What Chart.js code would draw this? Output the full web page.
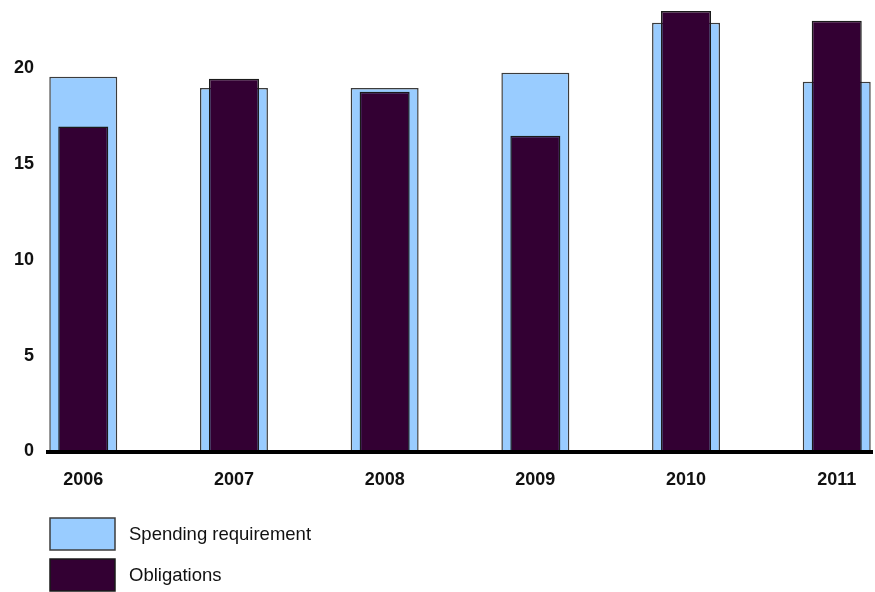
<!DOCTYPE html>
<html>
<head>
<meta charset="utf-8">
<style>
  html, body { margin: 0; padding: 0; background: #ffffff; }
  #wrap { width: 875px; height: 592px; position: relative; }
</style>
<script src="https://cdn.jsdelivr.net/npm/chart.js@4.4.1/dist/chart.umd.min.js"></script>
</head>
<body>
<div id="wrap"><canvas id="chart" width="875" height="592"></canvas></div>
<script>
// Fiscal years along the bottom axis
const years = ['2006', '2007', '2008', '2009', '2010', '2011'];
// Amounts per year (billions)
const spendingRequirement = [19.55, 18.96, 18.96, 19.76, 22.37, 19.29];
const obligations = [16.96, 19.45, 18.77, 16.47, 22.98, 22.47];
// Value-axis tick labels
const yTicks = [0, 5, 10, 15, 20];

const toPoints = (arr) => arr.map((v, i) => ({ x: i, y: v }));

// Draws the stacked legend boxes beneath the plot
const boxLegend = {
  id: 'boxLegend',
  afterDraw(chart) {
    const ctx = chart.ctx;
    const left = 50, top = 518, boxW = 65, boxH = 32, step = 41;
    ctx.save();
    ctx.font = '18.5px "Liberation Sans", Arial, sans-serif';
    ctx.textBaseline = 'middle';
    ctx.textAlign = 'left';
    chart.data.datasets.forEach((ds, i) => {
      const y = top + i * step;
      ctx.fillStyle = ds.backgroundColor;
      ctx.fillRect(left, y, boxW, boxH);
      ctx.lineWidth = 1.5;
      ctx.strokeStyle = ds.borderColor;
      ctx.strokeRect(left, y, boxW, boxH);
      ctx.fillStyle = '#111111';
      ctx.fillText(ds.label, left + 79, y + boxH / 2 + 1);
    });
    ctx.restore();
  }
};

new Chart(document.getElementById('chart'), {
  type: 'bar',
  data: {
    datasets: [
      {
        label: 'Spending requirement',
        data: toPoints(spendingRequirement),
        backgroundColor: '#99ccff',
        borderColor: '#3c3c3c',
        borderWidth: 1.5,
        grouped: false,
        categoryPercentage: 1,
        barPercentage: 0.451,
        order: 1
      },
      {
        label: 'Obligations',
        data: toPoints(obligations),
        backgroundColor: '#330033',
        borderColor: '#1a1a1a',
        borderWidth: 1.5,
        grouped: false,
        categoryPercentage: 1,
        barPercentage: 0.332,
        order: 0
      }
    ]
  },
  options: {
    responsive: false,
    animation: false,
    events: [],
    layout: { padding: { top: 10.6, right: 3, bottom: 100.5, left: 0 } },
    plugins: {
      legend: { display: false },
      tooltip: { enabled: false }
    },
    scales: {
      x: {
        type: 'linear',
        offset: false,
        min: -0.234,
        max: 5.234,
        afterBuildTicks: (scale) => { scale.ticks = years.map((_, i) => ({ value: i })); },
        afterFit: (scale) => {
          scale.height = 40;
          scale.paddingLeft = 0;
          scale.paddingRight = 0;
        },
        grid: { display: false, drawTicks: false },
        border: { display: true, color: '#000000', width: 4, z: 1 },
        ticks: {
          autoSkip: false,
          maxRotation: 0,
          padding: 18,
          color: '#111111',
          font: { family: '"Liberation Sans", Arial, sans-serif', size: 18, weight: 'bold' },
          callback: (v) => years[v]
        }
      },
      y: {
        min: 0,
        max: 23,
        afterBuildTicks: (scale) => { scale.ticks = yTicks.map((v) => ({ value: v })); },
        afterFit: (scale) => {
          scale.width = 48;
          scale.paddingTop = 0;
          scale.paddingBottom = 0;
        },
        grid: { display: false, drawTicks: false },
        border: { display: false },
        ticks: {
          padding: 14,
          color: '#111111',
          font: { family: '"Liberation Sans", Arial, sans-serif', size: 18, weight: 'bold' }
        }
      }
    }
  },
  plugins: [boxLegend]
});
</script>
</body>
</html>
